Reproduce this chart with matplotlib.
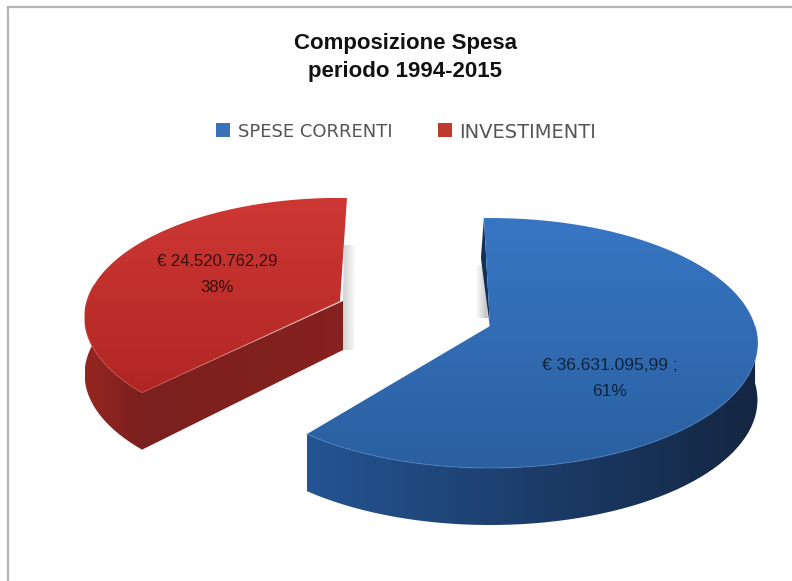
import numpy as np
import matplotlib
matplotlib.use("Agg")
import matplotlib.pyplot as plt
from matplotlib.patches import PathPatch, Rectangle
from matplotlib.path import Path

title_lines = ["Composizione Spesa", "periodo 1994-2015"]
categories = ["SPESE CORRENTI", "INVESTIMENTI"]
amounts = ["€ 36.631.095,99 ;", "€ 24.520.762,29"]
shares = [61, 38]
pct_labels = ["61%", "38%"]

W, H = 792, 581
A, B, K = 265.0, 122.7, 0.136   # ellipse radii and perspective
DEPTH = 57


def rim(cx, cy, t1, t2, scale=1.0, n=200):
    # points on the slice edge, angles in degrees
    t = np.radians(np.linspace(t1, t2, n))
    s = scale / (1.0 + K * np.sin(t))
    return cx + A * np.cos(t) * s, cy - B * np.sin(t) * s


def filled(ax, xs, ys, c1, c2, vertical=True):
    # polygon filled with a linear gradient
    verts = np.column_stack([xs, ys])
    patch = PathPatch(Path(np.vstack([verts, verts[0]])), fc="none", ec="none")
    ax.add_patch(patch)
    g = np.linspace(0, 1, 256)
    g = g[:, None] if vertical else g[None, :]
    img = (1 - g[..., None]) * np.array(c1) / 255 + g[..., None] * np.array(c2) / 255
    im = ax.imshow(img, extent=(xs.min(), xs.max(), ys.max(), ys.min()),
                   aspect="auto", interpolation="bilinear", zorder=patch.get_zorder())
    im.set_clip_path(patch)
    ax.set_xlim(0, W)
    ax.set_ylim(H, 0)


fig = plt.figure(figsize=(W / 100, H / 100), dpi=100)
ax = fig.add_axes([0, 0, 1, 1])
ax.set_axis_off()
ax.set_xlim(0, W)
ax.set_ylim(H, 0)
plt.rcParams["font.family"] = ["Liberation Sans", "DejaVu Sans"]

# chart frame
ax.plot([8, 8], [H, 7], color="#b4b4b4", lw=1.6)
ax.plot([8, W], [7, 7], color="#b4b4b4", lw=1.6)

blue_start = 91.5
blue_sweep = 360 * shares[0] / 100
red_start = 225
red_sweep = 360 * shares[1] / 100
red_scale = 0.955

# soft shadows next to the cut faces
filled(ax, np.array([344.0, 356, 354, 342]), np.array([245.0, 245, 350, 350]),
       (205, 205, 205), (255, 255, 255), vertical=False)
filled(ax, np.array([476.0, 484, 488, 476]), np.array([265.0, 265, 318, 318]),
       (255, 255, 255), (190, 190, 190), vertical=False)

# investimenti, clockwise from the tip at the front
cx, cy = 340, 301
rx, ry = rim(cx, cy, red_start, red_start - red_sweep, red_scale)
# straight front cut
filled(ax, np.array([rx[0], cx + 3, cx + 3, rx[0]]), np.array([ry[0], cy, cy + DEPTH - 8, ry[0] + DEPTH]),
       (122, 32, 30), (134, 34, 31), vertical=False)
# rim wall on the left
t = np.linspace(red_start, red_start - red_sweep, 200)
mask = t > 172
filled(ax, np.r_[rx[mask], rx[mask][::-1]], np.r_[ry[mask], ry[mask][::-1] + DEPTH],
       (150, 38, 34), (122, 32, 30), vertical=False)
filled(ax, np.r_[cx, rx], np.r_[cy, ry], (206, 56, 52), (176, 38, 36))
ax.plot(np.r_[cx, rx[0], rx[mask]], np.r_[cy, ry[0], ry[mask]], color="#c9524c", lw=0.8, alpha=0.6)

# spese correnti, clockwise from the top
cx, cy = 490, 326
bx, by = rim(cx, cy, blue_start, blue_start - blue_sweep)
# inner cut seen as a dark sliver
filled(ax, np.array([bx[0], cx, cx, bx[0] - 3]), np.array([by[0], cy, cy + 2, by[0] + 40]),
       (20, 48, 88), (20, 48, 88))
t = np.linspace(blue_start, blue_start - blue_sweep, 200)
mask = np.sin(np.radians(t)) < 0.0
filled(ax, np.r_[bx[mask], bx[mask][::-1]], np.r_[by[mask], by[mask][::-1] + DEPTH],
       (36, 84, 146), (20, 38, 66), vertical=False)
filled(ax, np.r_[cx, bx], np.r_[cy, by], (56, 118, 196), (42, 96, 160))
ax.plot(bx[mask], by[mask], color="#4d7fc0", lw=0.8, alpha=0.6)

# title
ax.text(405, 43, title_lines[0], ha="center", va="center", fontsize=16, fontweight="bold", color="#111111")
ax.text(405, 72, title_lines[1], ha="center", va="center", fontsize=16, fontweight="bold", color="#111111")

# legend
ax.add_patch(Rectangle((216, 123), 14, 14, fc="#3a73b8", ec="none"))
ax.add_patch(Rectangle((438, 123), 14, 14, fc="#c0392f", ec="none"))
ax.text(238, 132, categories[0], ha="left", va="center", fontsize=13, color="#555555", family="DejaVu Sans")
ax.text(459, 132, categories[1], ha="left", va="center", fontsize=14, color="#555555", family="DejaVu Sans")

# data labels
ax.text(610, 365, amounts[0], ha="center", va="center", fontsize=12.5, color="#10233f")
ax.text(610, 392, pct_labels[0], ha="center", va="center", fontsize=12.5, color="#10233f")
ax.text(217, 262, amounts[1], ha="center", va="center", fontsize=12, color="#3a0d0d")
ax.text(217, 288, pct_labels[1], ha="center", va="center", fontsize=12, color="#3a0d0d")

fig.savefig("out.png", dpi=100)
